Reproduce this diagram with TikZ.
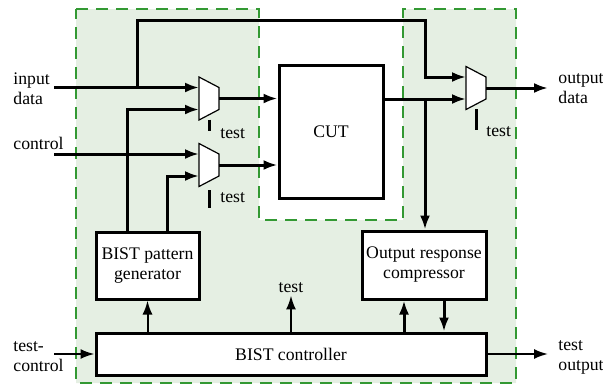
\documentclass[tikz,border=0pt]{standalone}
\usepackage{fontspec}
\setmainfont{Liberation Serif}
\usetikzlibrary{positioning,arrows.meta,calc}
\definecolor{zonegreen}{HTML}{339933}
\definecolor{zonefill}{HTML}{E5EFE3}
\tikzset{wire/.style={draw, line width=1.5pt, -{Latex[length=7pt,width=5pt]}}}
\tikzset{wire0/.style={draw, line width=1.5pt}}
\tikzset{wire2/.style={draw, line width=1pt, -{Latex[length=7pt,width=5pt]}}}
\tikzset{blk/.style={draw, line width=1.5pt, fill=white, align=center, inner sep=0pt}}
\tikzset{lbl/.style={align=left, inner sep=0pt}}
\tikzset{bistzone/.style={draw=zonegreen, fill=zonefill, line width=1pt, dash pattern=on 6pt off 4pt}}
\tikzset{mux/.pic={
    \draw[line width=0.6pt, fill=white] (-10,-21.5) -- (10,-11) -- (10,11) -- (-10,21.5) -- cycle;
    \coordinate (-a) at (-10,-11);
    \coordinate (-b) at (-10,11);
    \coordinate (-o) at (10,0);
    \coordinate (-s) at (0,21);
}}

\begin{document}
\begin{tikzpicture}[x=0.5pt, y=-0.5pt, font=\fontsize{8.85}{10}\selectfont]
    \useasboundingbox (0,0) rectangle (603,386);
    % self-test zone
    \path[bistzone] (76,9) -- (259,9) -- (259,220) -- (403,220) -- (403,9)
        -- (516,9) -- (516,383) -- (76,383) -- cycle;

    % blocks
    \node[blk, minimum width=52pt, minimum height=66.5pt] (cut) at (331,131.5) {CUT};
    \node[blk, minimum width=51.5pt, minimum height=33.5pt] (bpg) at (147.5,265.5) {BIST pattern\\generator};
    \node[blk, minimum width=62pt, minimum height=34pt] (orc) at (424,265) {Output response\\compressor};
    \node[blk, minimum width=195pt, minimum height=21pt] (ctrl) at (291,354) {BIST controller};

    % multiplexers
    \pic (m1) at (209,98.5) {mux};
    \pic (m2) at (209,165) {mux};
    \pic (m3) at (476,88) {mux};
    \draw[wire0] (m1-s) -- ++(0,11);
    \draw[wire0] ([yshift=-2pt]m2-s) -- ++(0,18);
    \draw[wire0] (m3-s) -- ++(0,21);
    \node[lbl, anchor=base west] (t1) at (220,138) {test};
    \node[lbl, anchor=base west] (t2) at (220,202) {test};
    \node[lbl, anchor=base west] (t3) at (486,136) {test};

    % outside labels
    \node[lbl, anchor=west] (inlbl) at (13,89) {input\\data};
    \node[lbl, anchor=west] (ctllbl) at (13,143) {control};
    \node[lbl, anchor=west] (tclbl) at (13,357) {test-\\control};
    \node[lbl, anchor=west] (outlbl) at (558,89) {output\\data};
    \node[lbl, anchor=west] (tolbl) at (558,357) {test\\output};
    \node[lbl] (tst) at (291,288) {test};

    \coordinate (in) at (54,87.5);
    \coordinate (byp) at (137,87.5);
    \coordinate (bt) at (425,20);
    \coordinate (br) at (425,99);
    \coordinate (ctl) at (54,154);
    \coordinate (outd) at (548,88);
    \coordinate (tci) at (54,354);
    \coordinate (tout) at (548,354);

    % data path
    \draw[wire] (in) -- (m1-a);
    \draw[wire] (byp) |- (bt) |- (m3-a);
    \draw[wire] (ctl) -- (m2-a);
    \draw[wire] (m1-o) -- (m1-o -| cut.west);
    \draw[wire] (m2-o) -- (m2-o -| cut.west);
    \draw[wire] (cut.east |- m3-b) -- (m3-b);
    \draw[wire] (m3-o) -- (outd);
    \draw[wire] (br) -- (br |- orc.north);
    \draw[wire] (bpg.north -| 127,0) |- (m1-b);
    \draw[wire] (bpg.north -| 167,0) |- (m2-b);

    % control path
    \draw[wire2] (tci) -- (tci -| ctrl.west);
    \draw[wire2] (ctrl.east) -- (tout);
    \draw[wire2] (ctrl.north -| bpg) -- (bpg.south);
    \draw[wire2] (ctrl.north -| tst) -- ([yshift=-1pt]tst.south);
    \draw[wire] (ctrl.north -| 404,0) -- (orc.south -| 404,0);
    \draw[wire] (orc.south -| 444,0) -- (ctrl.north -| 444,0);
\end{tikzpicture}
\end{document}
